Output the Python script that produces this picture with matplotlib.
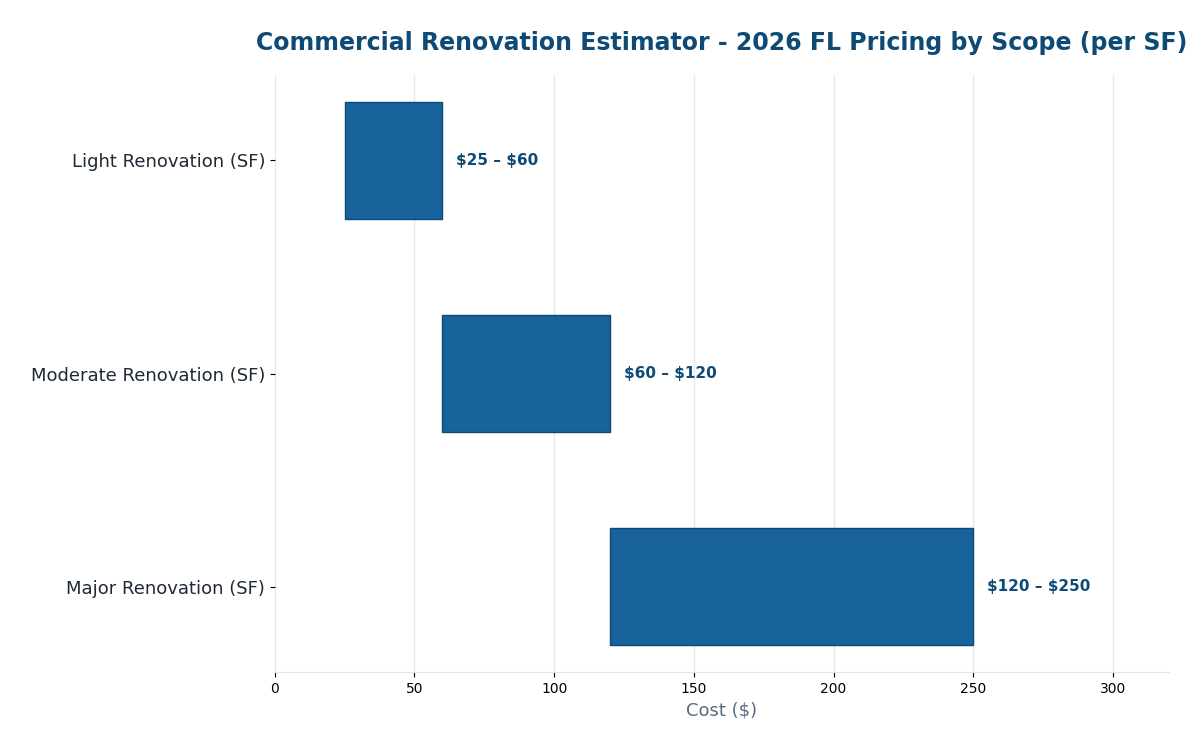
import matplotlib
matplotlib.use('Agg')
import matplotlib.pyplot as plt

# scope ranges ($ per SF)
scopes = ['Light Renovation (SF)', 'Moderate Renovation (SF)', 'Major Renovation (SF)']
low = [25, 60, 120]
high = [60, 120, 250]
labels = [r'\$25 – \$60', r'\$60 – \$120', r'\$120 – \$250']

fig = plt.figure(figsize=(12, 7.5), dpi=100)
ax = fig.add_axes([0.229, 0.104, 0.745, 0.796])

pos = list(range(len(scopes)))
widths = [h - l for l, h in zip(low, high)]
ax.barh(pos, widths, left=low, height=0.55, color='#18639b', edgecolor='#0d4a75', linewidth=1, zorder=3)

for p, h, lab in zip(pos, high, labels):
    ax.annotate(lab, (h, p), xytext=(10, 0), textcoords='offset points', va='center', ha='left',
                fontsize=11, fontweight='bold', color='#0d4a75')

ax.set_yticks(pos)
ax.set_yticklabels(scopes, fontsize=13, color='#1f2a36')
ax.set_ylim(2.4, -0.4)
ax.set_xlim(0, 320)
ax.set_xticks([0, 50, 100, 150, 200, 250, 300])
ax.tick_params(axis='x', labelsize=10)
ax.set_xlabel('Cost ($)', fontsize=13, color='#5a6b7d')
ax.grid(axis='x', color='#dde8f0', linewidth=1, zorder=0)
for s in ['top', 'right', 'left']:
    ax.spines[s].set_visible(False)
ax.spines['bottom'].set_color('#dde8f0')
ax.set_title('Commercial Renovation Estimator - 2026 FL Pricing by Scope (per SF)',
             fontsize=17, fontweight='bold', color='#0d4a75', pad=18)

plt.savefig('out.png')
